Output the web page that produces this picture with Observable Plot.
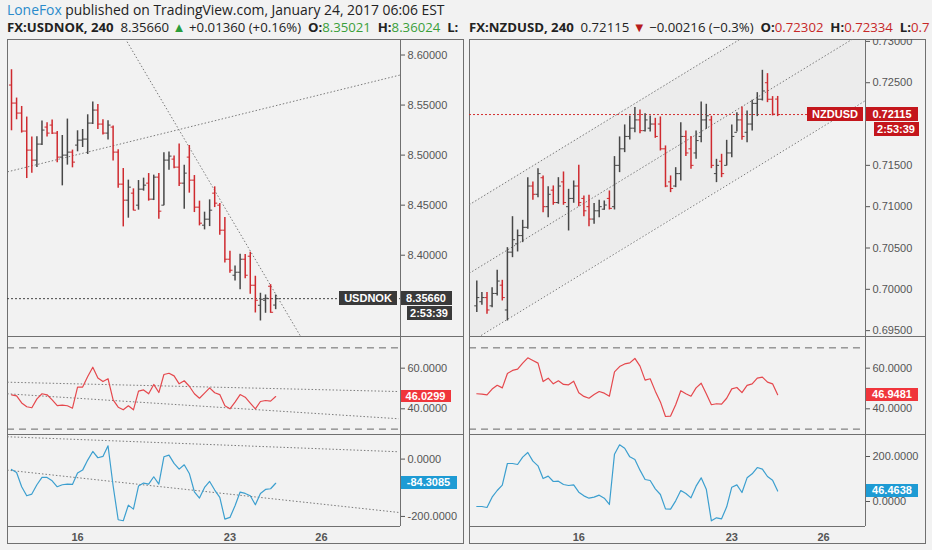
<!DOCTYPE html>
<html><head><meta charset="utf-8">
<script src="https://cdn.jsdelivr.net/npm/d3@7"></script>
<script src="https://cdn.jsdelivr.net/npm/@observablehq/plot@0.6"></script>
<style>
html,body{margin:0;padding:0;background:#f2f2f2;}
#root{position:relative;width:932px;height:550px;overflow:hidden;background:#f2f2f2;font-family:"Open Sans",sans-serif;}
.hdr{position:absolute;white-space:nowrap;color:#222;font-size:13.2px;line-height:18px;clip-path:inset(-6px 0 -6px 0);}
.h2{top:20.5px;line-height:13.5px;}
.tag{position:absolute;color:#fff;font:bold 11px "Liberation Sans",Arial,sans-serif;display:flex;align-items:center;justify-content:center;white-space:nowrap;}
.ln{position:absolute;background:#707070;}
.g{color:#3a9f3a}.r{color:#c62828}
</style></head><body><div id="root">
<div class="hdr" style="left:7px;top:1px;width:455px;font-size:13.9px"><span style="color:#2a8bcb">LoneFox</span> published on TradingView.com, January 24, 2017 06:06 EST</div>
<div class="hdr h2" style="left:7px;width:455px"><b>FX:USDNOK, 240</b>&nbsp; 8.35660 <span style="color:#2a9d3a">▲</span> +0.01360 (+0.16%) &nbsp;<b>O:</b><span class="g">8.35021</span> &nbsp;<b>H:</b><span class="g">8.36024</span> &nbsp;<b>L:</b></div>
<div class="hdr h2" style="left:469px;width:463px"><b>FX:NZDUSD, 240</b>&nbsp; 0.72115 <span style="color:#b71c1c">▼</span> −0.00216 (−0.3%) &nbsp;<b>O:</b><span class="r">0.72302</span> &nbsp;<b>H:</b><span class="r">0.72334</span> &nbsp;<b>L:</b><span class="r">0.7</span></div>
</div>
<script>
// ---------- data ----------
const usdnokHigh=[8.5853,8.5570,8.5486,8.5380,8.5180,8.5183,8.5340,8.5323,8.5350,8.5236,8.5196,8.5360,8.5050,8.5243,8.5256,8.5403,8.5530,8.5506,8.5353,8.5343,8.5290,8.5053,8.4866,8.4750,8.4663,8.4746,8.4770,8.4816,8.4800,8.4816,8.5023,8.5030,8.4990,8.5110,8.4900,8.5096,8.4796,8.4540,8.4430,8.4553,8.4683,8.4516,8.4376,8.4040,8.3893,8.4010,8.4006,8.4030,8.3790,8.3620,8.3603,8.3706,8.36024];
const usdnokLow=[8.5243,8.5353,8.5220,8.4766,8.4820,8.4876,8.5096,8.5180,8.5206,8.4923,8.4693,8.4900,8.4873,8.5033,8.5076,8.5006,8.5306,8.5256,8.5200,8.5150,8.4940,8.4670,8.4283,8.4370,8.4443,8.4450,8.4640,8.4540,8.4546,8.4360,8.4493,8.4850,8.4863,8.4686,8.4460,8.4620,8.4426,8.4293,8.4253,8.4286,8.4476,8.4200,8.3923,8.3820,8.3743,8.3656,8.3766,8.3610,8.3423,8.3343,8.3420,8.3420,8.3456];
const usdnokOpen=[8.5700,8.5520,8.5420,8.5240,8.5050,8.4950,8.5110,8.5280,8.5300,8.5220,8.4980,8.5000,8.5030,8.5100,8.5150,8.5160,8.5320,8.5450,8.5310,8.5220,8.5280,8.5030,8.4710,8.4550,8.4620,8.4500,8.4660,8.4720,8.4560,8.4780,8.4500,8.4950,8.4960,8.4880,8.4720,8.4980,8.4750,8.4480,8.4300,8.4360,8.4620,8.4500,8.4250,8.3960,8.3800,8.3830,8.3960,8.3990,8.3700,8.3500,8.3550,8.3690,8.35021];
const usdnokClose=[8.5520,8.5420,8.5240,8.5050,8.4950,8.5110,8.5250,8.5220,8.5220,8.4980,8.5000,8.5030,8.4930,8.5150,8.5160,8.5320,8.5450,8.5310,8.5220,8.5300,8.5030,8.4710,8.4550,8.4680,8.4450,8.4660,8.4700,8.4560,8.4780,8.4440,8.4950,8.4990,8.4880,8.4720,8.4820,8.4750,8.4480,8.4320,8.4360,8.4450,8.4520,8.4250,8.3960,8.3850,8.3830,8.3960,8.3800,8.3700,8.3550,8.3560,8.3570,8.3430,8.35660];
const usdnokRsi=[46.9,46.4,42.9,41.0,40.5,44.9,47.4,46.9,44.4,41.6,41.8,41.5,40.3,50.7,50.7,55.9,60.5,55.2,53.4,54.8,44.4,40.8,39.5,41.5,39.5,48.7,49.3,47.4,52.0,48.0,56.9,57.5,56.2,52.3,53.8,51.1,47.4,45.2,47.7,50.3,47.9,47.0,41.5,40.0,43.3,47.0,45.7,42.8,40.0,43.6,44.1,43.8,46.03];
const usdnokCci=[-36,-46.5,-96.5,-128,-122,-89.5,-64,-64,-75.6,-96.5,-89.5,-87.2,-88.4,-48.8,-38.4,-3.5,26.7,4.7,9.3,46.5,-93,-211.6,-215,-160.5,-174.4,-94.2,-83.7,-87.2,-61.6,-87.2,8.1,14,-15.1,-34.9,-19.8,-50,-114,-136,-98.8,-77.9,-108,-133.7,-209.3,-203.5,-162.8,-115,-119.8,-128,-159.3,-119.8,-105.8,-103.5,-84.31];

const nzdusdHigh=[0.70101,0.69960,0.69960,0.70020,0.70230,0.70109,0.70504,0.70879,0.70718,0.70835,0.71351,0.71299,0.71460,0.71372,0.71242,0.71251,0.71351,0.71420,0.71210,0.71311,0.71501,0.71130,0.71138,0.71037,0.71077,0.71069,0.71190,0.71606,0.71844,0.71989,0.72098,0.72199,0.72170,0.72126,0.72098,0.72069,0.72086,0.71735,0.71372,0.71472,0.72017,0.71916,0.71848,0.71916,0.72267,0.72239,0.72094,0.71573,0.71634,0.71803,0.71989,0.72138,0.72207,0.72158,0.72287,0.72380,0.72650,0.72610,0.72332,0.72334];
const nzdusdLow=[0.69718,0.69806,0.69697,0.69778,0.69919,0.69859,0.69617,0.70383,0.70452,0.70565,0.70726,0.71077,0.71109,0.70928,0.70867,0.71017,0.71029,0.71017,0.70706,0.71041,0.71000,0.70879,0.70758,0.70787,0.70867,0.70956,0.70960,0.70960,0.71412,0.71654,0.71807,0.71896,0.71884,0.71904,0.71904,0.71827,0.71674,0.71230,0.71170,0.71230,0.71311,0.71606,0.71452,0.71573,0.71775,0.71936,0.71460,0.71291,0.71351,0.71493,0.71593,0.71904,0.71803,0.71775,0.71916,0.72090,0.72279,0.72259,0.72098,0.72090];
const nzdusdOpen=[0.6980,0.6985,0.6990,0.6980,0.6995,0.7005,0.6975,0.7045,0.7055,0.7065,0.7075,0.7125,0.7115,0.7135,0.7100,0.7120,0.7105,0.7130,0.7100,0.7110,0.7125,0.7110,0.7100,0.7085,0.7095,0.7097,0.7110,0.7100,0.7150,0.7170,0.7185,0.7195,0.7205,0.7192,0.7195,0.7200,0.7200,0.7170,0.7130,0.7125,0.7140,0.7185,0.7170,0.7165,0.7185,0.7205,0.7205,0.7140,0.7155,0.7150,0.7165,0.7190,0.7205,0.7190,0.7200,0.7225,0.7230,0.7250,0.7230,0.72302];
const nzdusdClose=[0.6990,0.6990,0.6975,0.6995,0.7010,0.6990,0.7045,0.7060,0.7065,0.7075,0.7125,0.7115,0.7140,0.7100,0.7115,0.7105,0.7125,0.7105,0.7110,0.7125,0.7105,0.7095,0.7085,0.7095,0.7100,0.7102,0.7098,0.7150,0.7170,0.7185,0.7195,0.7205,0.7192,0.7205,0.7200,0.7185,0.7170,0.7125,0.7122,0.7140,0.7185,0.7165,0.7150,0.7180,0.7205,0.7210,0.7150,0.7150,0.7140,0.7165,0.7185,0.7205,0.7185,0.7200,0.7225,0.7230,0.7240,0.7230,0.7212,0.72115];
const nzdusdRsi=[47.4,47.2,46.9,49.7,51.6,50.3,57.4,58.9,59.5,62.5,65.1,63.8,62.5,53.4,55.1,52.3,53.8,52.0,51.8,53.6,47.9,46.1,45.2,47.0,48.5,47.7,46.2,58.2,60.8,62.1,62.6,64.8,61.0,54.1,54.8,48.7,43.4,36.2,36.4,42.0,48.9,47.4,46.2,50.3,52.6,47.4,42.0,42.5,42.3,45.2,49.8,50.5,48.0,51.5,52.3,55.1,55.6,53.1,52.3,46.95];
const nzdusdCci=[-22.2,-22.2,-26.7,19.3,48.9,72.6,168.9,168.9,164.4,197,217.8,179.3,158.5,102.2,112.6,88.9,90.4,75.6,71.1,74.1,41.5,25.2,14.8,19.3,28.1,14.8,-13.3,210.4,251.9,237,198.5,186.7,139.3,97.8,93.3,56.3,31.1,-32.6,-34.1,3.0,48.9,35.6,16.3,68.1,105.2,54.8,-85.9,-72.6,-77,-23.7,63.7,74.1,40,105.2,123,151.1,143.7,111.1,94.8,46.46];

// day tick positions (bar index) and labels
const dayLabels=["16","23","26"];
const usdnokDayBars=[13,43,61];
const nzdusdDayBars=[20,50,68];

// trend lines: [x1, y1, x2, y2] in (bar index, value)
const usdnokPriceTrends=[[-0.787,8.4833,76.57,8.5801],[21,8.6284,57,8.3181]];
const usdnokRsiTrends=[[-0.85,53.1,76.2,48.5],[-0.85,47.4,76.2,35.1]];
const usdnokCciTrends=[[-0.85,77.9,76.2,25.6],[-0.85,-38.4,76.2,-186]];
const nzdusdChannelX=[-1.5,77];
const nzdusdChannelUpper=[0.71023,0.73983];
const nzdusdChannelMiddle=[0.70193,0.73153];
const nzdusdChannelLower=[0.69353,0.72313];

const usdnokLast=8.35660, nzdusdLast=0.72115;
const usdnokTicks=[8.40,8.45,8.50,8.55,8.60];
const nzdusdTicks=[0.695,0.700,0.705,0.710,0.715,0.725,0.730];

// ---------- layout ----------
const root=document.getElementById("root");
const UP="#474747", DOWN="#cf2a2f", RSI="#e5484d", CCI="#3c9fcf", TREND="#7a7a7a";
const TOP=38.5, Y1=336, Y2=433.7, Y3=525.7, BOT=543;

function line(l,t,w,h){const d=document.createElement("div");d.className="ln";Object.assign(d.style,{left:l+"px",top:t+"px",width:w+"px",height:h+"px"});root.appendChild(d);}
function frame(l,r,sep){
  line(l,TOP,r-l,1);line(l,BOT,r-l,1);line(l,TOP,1,BOT-TOP);line(r,TOP,1,BOT-TOP+1);
  line(l,Y1,r-l,1);line(l,Y2,r-l,1);line(l,Y3,sep-l,1);line(sep,TOP,1,Y3-TOP);
}
frame(7,462.5,399.5);
frame(469,925.3,865);

function panel(o){
  const p=Plot.plot({
    width:456,height:o.h,marginLeft:0,marginRight:o.mr,marginTop:0,marginBottom:0,
    x:{domain:o.xd,axis:null},
    y:{domain:o.yd,axis:o.ticks?"right":null,ticks:o.ticks,tickFormat:o.fmt,tickSize:4,tickPadding:3,label:null},
    color:{type:"identity"},
    style:{background:"transparent",fontFamily:"Liberation Sans, Arial, sans-serif",fontSize:"11px",color:"#555",overflow:"hidden"},
    marks:o.marks
  });
  p.style.position="absolute";p.style.left=o.left+"px";p.style.top=o.top+"px";
  root.appendChild(p);
  return p;
}
function tag(p,top,v,text,bg,l,w,h,dy=0){
  const y=top+p.scale("y").apply(v)+dy;
  const d=document.createElement("div");d.className="tag";d.textContent=text;
  Object.assign(d.style,{left:l+"px",top:(y-h/2)+"px",width:w+"px",height:h+"px",background:bg});
  root.appendChild(d);
}
function ohlc(H,L,O,C){
  const b=H.map((h,i)=>({i,h,l:L[i],o:O[i],c:C[i],col:C[i]>=O[i]?UP:DOWN}));
  return [
    Plot.ruleX(b,{x:"i",y1:"l",y2:"h",stroke:"col",strokeWidth:1.5}),
    Plot.link(b,{x1:d=>d.i-0.5,x2:"i",y1:"o",y2:"o",stroke:"col",strokeWidth:1}),
    Plot.link(b,{x1:"i",x2:d=>d.i+0.5,y1:"c",y2:"c",stroke:"col",strokeWidth:1})
  ];
}
function trends(arr){
  return Plot.link(arr,{x1:d=>d[0],y1:d=>d[1],x2:d=>d[2],y2:d=>d[3],stroke:TREND,strokeDasharray:"1.5,2",strokeWidth:1,clip:true});
}
const f5=d=>d.toFixed(5), f4=d=>d.toFixed(4);

// ---------- USDNOK ----------
const xdL=[-0.787,76.57];
const pL=panel({left:7,top:TOP,h:Y1-TOP,mr:63,xd:xdL,yd:[8.3183,8.6155],ticks:usdnokTicks,fmt:f5,marks:[
  trends(usdnokPriceTrends),
  Plot.ruleY([usdnokLast],{stroke:"#444",strokeDasharray:"2,2"}),
  ...ohlc(usdnokHigh,usdnokLow,usdnokOpen,usdnokClose)
]});
const rL=panel({left:7,top:Y1,h:Y2-Y1,mr:63,xd:xdL,yd:[27.5,75.6],ticks:[40,60],fmt:f4,marks:[
  Plot.ruleY([30,70],{stroke:"#666",strokeDasharray:"7,5"}),
  trends(usdnokRsiTrends),
  Plot.line(usdnokRsi,{x:(d,i)=>i,y:d=>d,stroke:RSI,strokeWidth:1.2})
]});
const cL=panel({left:7,top:Y2,h:Y3-Y2,mr:63,xd:xdL,yd:[-235.1,85.8],ticks:[0,-200],fmt:f4,marks:[
  trends(usdnokCciTrends),
  Plot.line(usdnokCci,{x:(d,i)=>i,y:d=>d,stroke:CCI,strokeWidth:1.2})
]});
panel({left:7,top:Y3,h:BOT-Y3,mr:63,xd:xdL,yd:[0,1],marks:[
  Plot.text(dayLabels,{x:(d,i)=>usdnokDayBars[i],text:d=>d,frameAnchor:"middle",dy:2,fontWeight:"bold",fill:"#555"})
]});
tag(pL,TOP,usdnokLast,"USDNOK","#3a3a3a",339,58,14);
tag(pL,TOP,usdnokLast,f5(usdnokLast),"#3a3a3a",400.5,51,14);
tag(pL,TOP,usdnokLast,"2:53:39","#3a3a3a",406.5,45,14,15.5);
tag(rL,Y1,usdnokRsi[usdnokRsi.length-1],"46.0299","#f0353b",400.5,50,12);
tag(cL,Y2,usdnokCci[usdnokCci.length-1],"-84.3085","#1e9bd4",400.5,56,13);

// ---------- NZDUSD ----------
const xdR=[-1.43,76.22];
const chan=nzdusdChannelX.map((x,k)=>({x,lo:nzdusdChannelLower[k],hi:nzdusdChannelUpper[k]}));
const chanLines=[nzdusdChannelUpper,nzdusdChannelMiddle,nzdusdChannelLower].map(a=>[nzdusdChannelX[0],a[0],nzdusdChannelX[1],a[1]]);
const pR=panel({left:469,top:TOP,h:Y1-TOP,mr:60,xd:xdR,yd:[0.69423,0.73023],ticks:nzdusdTicks,fmt:f5,marks:[
  Plot.areaY(chan,{x:"x",y1:"lo",y2:"hi",fill:"#000",fillOpacity:0.025,clip:true}),
  trends(chanLines),
  Plot.ruleY([nzdusdLast],{stroke:"#d32f2f",strokeDasharray:"2,2"}),
  ...ohlc(nzdusdHigh,nzdusdLow,nzdusdOpen,nzdusdClose)
]});
const rR=panel({left:469,top:Y1,h:Y2-Y1,mr:60,xd:xdR,yd:[27.5,75.6],ticks:[40,60],fmt:f4,marks:[
  Plot.ruleY([30,70],{stroke:"#666",strokeDasharray:"7,5"}),
  Plot.line(nzdusdRsi,{x:(d,i)=>i,y:d=>d,stroke:RSI,strokeWidth:1.2})
]});
const cR=panel({left:469,top:Y2,h:Y3-Y2,mr:60,xd:xdR,yd:[-111.1,297.8],ticks:[0,200],fmt:f4,marks:[
  Plot.line(nzdusdCci,{x:(d,i)=>i,y:d=>d,stroke:CCI,strokeWidth:1.2})
]});
panel({left:469,top:Y3,h:BOT-Y3,mr:60,xd:xdR,yd:[0,1],marks:[
  Plot.text(dayLabels,{x:(d,i)=>nzdusdDayBars[i],text:d=>d,frameAnchor:"middle",dy:2,fontWeight:"bold",fill:"#555"})
]});
tag(pR,TOP,nzdusdLast,"NZDUSD","#c4161c",807,56,14);
tag(pR,TOP,nzdusdLast,f5(nzdusdLast),"#c4161c",866,52,14);
tag(pR,TOP,nzdusdLast,"2:53:39","#c4161c",873.5,45,14,15.5);
tag(rR,Y1,nzdusdRsi[nzdusdRsi.length-1],"46.9481","#f0353b",866,52,13);
tag(cR,Y2,nzdusdCci[nzdusdCci.length-1],"46.4638","#1e9bd4",866,52,13);
</script></body></html>
